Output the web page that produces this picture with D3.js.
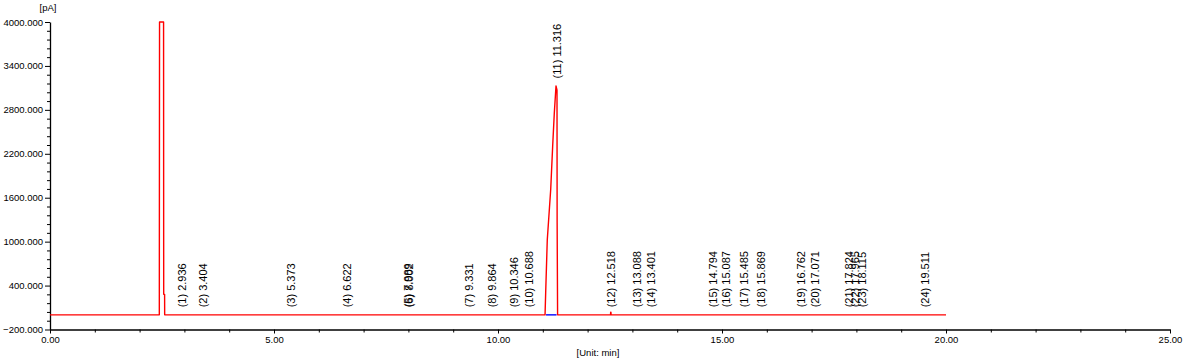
<!DOCTYPE html>
<html>
<head>
<meta charset="utf-8">
<script src="https://cdn.jsdelivr.net/npm/d3@7"></script>
<style>
  html, body { margin: 0; padding: 0; background: #fff; }
  svg { display: block; font-family: Arial, "Liberation Sans", sans-serif; }
</style>
</head>
<body>
<div id="chart"></div>
<script>
// Chromatogram data
const traceTime   = [0, 2.44, 2.445, 2.535, 2.538, 2.558, 2.56, 11.05, 11.065, 11.10, 11.176, 11.22, 11.257, 11.295, 11.317, 11.32, 11.33, 12.512, 12.515, 12.521, 12.524, 20.0];
const traceSignal = [0, 0, 4000, 4000, 280, 280, 0, 0, 320, 1026, 1708, 2299, 2759, 3127, 3070, 1258, 0, 0, 35, 35, 0, 0];

const peakNumbers = [1, 2, 3, 4, 5, 6, 7, 8, 9, 10, 11, 12, 13, 14, 15, 16, 17, 18, 19, 20, 21, 22, 23, 24];
const peakTimes   = [2.936, 3.404, 5.373, 6.622, 7.989, 8.002, 9.331, 9.864, 10.346, 10.688, 11.316, 12.518,
                     13.088, 13.401, 14.794, 15.087, 15.485, 15.869, 16.762, 17.071, 17.824, 17.965, 18.115, 19.511];
const peakHeights = [0, 0, 0, 0, 0, 0, 0, 0, 0, 0, 3127, 0, 0, 0, 0, 0, 0, 0, 0, 0, 0, 0, 0, 0];

// integration baseline under peak 11
const baseStart = 11.05;
const baseEnd = 11.33;

const yTicks = [-200, 400, 1000, 1600, 2200, 2800, 3400, 4000];
const xTicks = [0, 5, 10, 15, 20, 25];

const width = 1186;
const height = 364;

const svg = d3.select('#chart').append('svg')
  .attr('width', width)
  .attr('height', height);

// Scales
const x = d3.scaleLinear().domain([0, 25]).range([50, 1170]);
const y = d3.scaleLinear().domain([-200, 4000]).range([329.5, 22]);

// Minor ticks
const yMinor = d3.range(-200, 4000.1, 120).filter(v => !yTicks.includes(v));
const xMinor = d3.range(0, 25.01, 1).filter(v => !xTicks.includes(v));

svg.append('g')
  .attr('transform', 'translate(50,0)')
  .call(d3.axisLeft(y).tickValues(yMinor).tickSize(3).tickFormat(''))
  .call(g => g.select('.domain').remove())
  .call(g => g.selectAll('.tick line').attr('stroke', '#000'));

svg.append('g')
  .attr('transform', 'translate(0,329.5)')
  .call(d3.axisBottom(x).tickValues(xMinor).tickSize(3).tickFormat(''))
  .call(g => g.select('.domain').remove())
  .call(g => g.selectAll('.tick line').attr('stroke', '#000'));

// Major axes
const yAxis = svg.append('g')
  .attr('transform', 'translate(50,0)')
  .call(d3.axisLeft(y).tickValues(yTicks).tickSize(5).tickSizeOuter(0).tickPadding(2).tickFormat(d3.format('.3f')));

const xAxis = svg.append('g')
  .attr('transform', 'translate(0,329.5)')
  .call(d3.axisBottom(x).tickValues(xTicks).tickSize(4).tickSizeOuter(0).tickPadding(3).tickFormat(d3.format('.2f')));

[yAxis, xAxis].forEach(g => {
  g.select('.domain').attr('stroke', '#000').attr('stroke-width', 1.3);
  g.selectAll('.tick line').attr('stroke', '#000');
  g.selectAll('.tick text')
    .attr('fill', '#000')
    .style('font-size', '9.5px')
    .style('font-family', 'Arial, "Liberation Sans", sans-serif');
});

// Axis unit labels
svg.append('text')
  .attr('x', 48)
  .attr('y', 11)
  .attr('text-anchor', 'middle')
  .style('font-size', '9.5px')
  .attr('fill', '#000')
  .text('[pA]');

svg.append('text')
  .attr('x', 598)
  .attr('y', 356)
  .attr('text-anchor', 'middle')
  .style('font-size', '9.5px')
  .attr('fill', '#000')
  .text('[Unit: min]');

// Signal trace
const traceData = traceTime.map((t, i) => [t, traceSignal[i]]);
const line = d3.line().x(d => x(d[0])).y(d => y(d[1]));

svg.append('path')
  .datum(traceData)
  .attr('fill', 'none')
  .attr('stroke', '#ff0000')
  .attr('stroke-width', 1.4)
  .attr('stroke-linejoin', 'round')
  .attr('d', line);

// Integration baseline
svg.append('line')
  .attr('x1', x(baseStart) + 1)
  .attr('x2', x(baseEnd) - 1)
  .attr('y1', y(0))
  .attr('y2', y(0))
  .attr('stroke', '#0000ff')
  .attr('stroke-width', 1.4);

// Peak labels
svg.append('g')
  .selectAll('text')
  .data(peakTimes)
  .join('text')
  .attr('transform', (d, i) => `translate(${x(d) + 4.5},${y(peakHeights[i]) - 7.5}) rotate(-90)`)
  .attr('text-anchor', 'start')
  .style('font-size', '11px')
  .attr('fill', '#000')
  .text((d, i) => `(${peakNumbers[i]}) ${d.toFixed(3)}`);
</script>
</body>
</html>
